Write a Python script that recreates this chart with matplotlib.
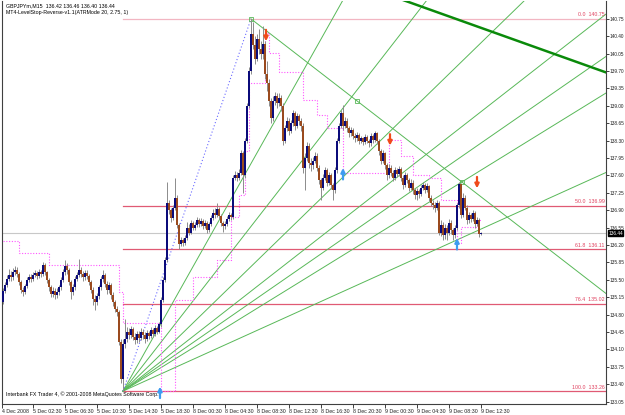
import matplotlib
matplotlib.use('Agg')
import matplotlib.pyplot as plt
import numpy as np

plt.rcParams['font.family'] = ['Liberation Sans', 'DejaVu Sans']

# ---------------- data (GBPJPYm M15 bars) ----------------
closes = [135.28,135.40,135.52,135.60,135.55,135.66,135.70,135.62,135.45,135.30,
          135.25,135.38,135.50,135.56,135.52,135.60,135.64,135.58,135.66,135.62,
          135.80,135.65,135.50,135.35,135.22,135.28,135.20,135.26,135.35,135.50,
          135.65,135.78,135.70,135.45,135.25,135.35,135.52,135.60,135.70,135.62,
          135.55,135.64,135.58,135.45,135.30,135.12,135.05,135.18,135.35,135.52,
          135.60,135.42,135.30,135.40,135.20,135.05,134.92,134.85,134.25,133.50,
          134.20,134.30,134.45,134.38,134.50,134.35,134.28,134.40,134.32,134.45,
          134.38,134.30,134.42,134.36,134.48,134.40,134.52,134.45,134.60,135.10,
          135.50,135.90,137.05,136.90,136.75,136.95,137.15,136.60,136.22,136.30,
          136.25,136.35,136.55,136.45,136.65,136.55,136.60,136.70,136.62,136.68,
          136.58,136.65,136.50,136.62,136.75,136.85,136.80,136.92,136.78,136.65,
          136.58,136.62,136.72,136.80,136.76,137.55,137.60,137.55,137.65,138.05,
          137.60,138.30,139.00,139.70,140.45,140.22,139.95,140.35,140.15,140.05,
          140.25,139.65,139.45,139.10,138.75,139.10,139.20,139.05,139.15,139.00,
          138.30,138.55,138.70,138.50,138.65,138.85,138.60,138.80,138.70,138.60,
          137.75,137.95,138.20,137.85,137.80,137.90,138.00,137.75,137.50,137.35,
          137.55,137.70,137.45,137.60,137.40,137.30,137.70,138.30,138.60,138.85,
          138.60,138.70,138.55,138.45,138.52,138.40,138.35,138.42,138.30,138.35,
          138.28,138.38,138.30,138.25,138.40,138.32,138.45,138.30,138.10,137.90,
          138.05,137.80,137.60,137.75,137.65,137.55,137.70,137.62,137.72,137.55,
          137.40,137.60,137.50,137.35,137.45,137.30,137.20,137.28,137.22,137.35,
          137.40,137.30,137.38,137.15,137.05,137.00,136.95,137.05,136.45,136.60,
          136.40,136.55,136.45,136.65,136.50,136.40,136.55,137.00,137.42,136.80,
          137.15,136.95,136.70,136.80,136.72,136.85,136.62,136.70,136.42,136.44]

opens = [135.05,135.28,135.40,135.52,135.60,135.55,135.66,135.70,135.62,135.45,
         135.30,135.25,135.38,135.50,135.56,135.52,135.60,135.64,135.58,135.66,
         135.62,135.80,135.65,135.50,135.35,135.22,135.28,135.20,135.26,135.35,
         135.50,135.65,135.78,135.70,135.45,135.25,135.35,135.52,135.60,135.70,
         135.62,135.55,135.64,135.58,135.45,135.30,135.12,135.05,135.18,135.35,
         135.52,135.60,135.42,135.30,135.40,135.20,135.05,134.92,134.85,134.25,
         133.50,134.20,134.30,134.45,134.38,134.50,134.35,134.28,134.40,134.32,
         134.45,134.38,134.30,134.42,134.36,134.48,134.40,134.52,134.45,134.60,
         135.10,135.50,135.90,137.05,136.90,136.75,136.95,137.15,136.60,136.22,
         136.30,136.25,136.35,136.55,136.45,136.65,136.55,136.60,136.70,136.62,
         136.68,136.58,136.65,136.50,136.62,136.75,136.85,136.80,136.92,136.78,
         136.65,136.58,136.62,136.72,136.80,136.76,137.55,137.60,137.55,137.65,
         138.05,137.60,138.30,139.00,139.70,140.45,140.22,139.95,140.35,140.15,
         140.05,140.25,139.65,139.45,139.10,138.75,139.10,139.20,139.05,139.15,
         139.00,138.30,138.55,138.70,138.50,138.65,138.85,138.60,138.80,138.70,
         138.60,137.75,137.95,138.20,137.85,137.80,137.90,138.00,137.75,137.50,
         137.35,137.55,137.70,137.45,137.60,137.40,137.30,137.70,138.30,138.60,
         138.85,138.60,138.70,138.55,138.45,138.52,138.40,138.35,138.42,138.30,
         138.35,138.28,138.38,138.30,138.25,138.40,138.32,138.45,138.30,138.10,
         137.90,138.05,137.80,137.60,137.75,137.65,137.55,137.70,137.62,137.72,
         137.55,137.40,137.60,137.50,137.35,137.45,137.30,137.20,137.28,137.22,
         137.35,137.40,137.30,137.38,137.15,137.05,137.00,136.95,137.05,136.45,
         136.60,136.40,136.55,136.45,136.65,136.50,136.40,136.55,137.00,137.42,
         136.80,137.15,136.95,136.70,136.80,136.72,136.85,136.62,136.70,136.42]

highs = [135.33,135.45,135.60,135.72,135.68,135.74,135.78,135.76,135.66,135.50,
         135.36,135.42,135.55,135.62,135.62,135.66,135.70,135.68,135.72,135.70,
         135.86,135.84,135.68,135.54,135.40,135.36,135.34,135.33,135.40,135.56,
         135.72,135.90,135.84,135.74,135.50,135.42,135.58,135.66,135.92,135.76,
         135.68,135.70,135.70,135.62,135.50,135.36,135.20,135.24,135.40,135.58,
         135.70,135.64,135.48,135.46,135.44,135.25,135.10,134.98,134.90,134.30,
         134.30,134.72,134.55,134.52,134.56,134.55,134.42,134.46,134.46,134.52,
         134.50,134.44,134.48,134.47,134.54,134.52,134.58,134.56,134.66,135.15,
         135.56,135.95,137.47,137.10,136.95,137.00,137.55,137.20,136.65,136.36,
         136.34,136.40,136.66,136.62,136.70,136.68,136.66,136.76,136.74,136.74,
         136.72,136.70,136.68,136.66,136.80,136.92,136.94,137.04,136.96,136.82,
         136.68,136.68,136.78,136.86,136.84,137.60,137.68,137.66,137.72,138.12,
         138.10,138.36,139.06,139.78,140.75,140.68,140.40,140.45,140.55,140.30,
         140.60,140.30,139.90,139.55,139.15,139.20,139.28,139.26,139.25,139.22,
         139.05,138.62,138.78,138.75,138.72,138.92,138.90,138.86,138.84,138.76,
         138.65,138.05,138.28,138.25,137.95,137.98,138.08,138.05,137.80,137.55,
         137.62,137.76,137.74,137.66,137.64,137.45,137.76,138.36,138.66,138.92,
         139.02,138.78,138.75,138.60,138.58,138.56,138.46,138.48,138.46,138.40,
         138.38,138.44,138.42,138.34,138.46,138.44,138.50,138.48,138.34,138.14,
         138.12,138.08,137.84,137.82,137.80,137.70,137.76,137.75,137.78,137.76,
         137.60,137.66,137.64,137.55,137.52,137.50,137.34,137.34,137.32,137.40,
         137.46,137.44,137.44,137.40,137.20,137.10,137.06,137.10,137.08,136.70,
         136.66,136.62,136.60,136.72,136.70,136.55,136.60,137.05,137.47,137.45,
         137.25,137.20,137.00,136.86,136.84,136.90,136.88,136.76,136.74,136.46]

lows = [135.02,135.24,135.36,135.48,135.48,135.50,135.60,135.56,135.40,135.24,
        135.18,135.22,135.34,135.46,135.46,135.48,135.55,135.52,135.54,135.56,
        135.58,135.60,135.44,135.28,135.15,135.16,135.12,135.14,135.20,135.30,
        135.46,135.60,135.62,135.40,135.12,135.20,135.30,135.48,135.56,135.55,
        135.48,135.50,135.52,135.40,135.24,135.00,134.89,135.00,135.12,135.30,
        135.46,135.36,135.22,135.24,135.12,134.98,134.85,134.78,134.18,133.42,
        133.26,134.12,134.25,134.30,134.32,134.28,134.20,134.22,134.25,134.28,
        134.30,134.22,134.26,134.30,134.32,134.34,134.36,134.40,134.42,134.55,
        135.05,135.45,135.85,136.82,136.66,136.70,136.90,136.55,136.12,136.18,
        136.18,136.20,136.30,136.40,136.42,136.50,136.50,136.56,136.56,136.58,
        136.52,136.54,136.44,136.46,136.58,136.70,136.74,136.76,136.72,136.58,
        136.46,136.52,136.58,136.68,136.70,136.72,137.50,137.48,137.50,137.60,
        137.25,137.55,138.25,138.95,139.65,140.15,139.85,139.90,140.05,139.95,
        139.95,139.55,139.30,139.00,138.65,138.70,139.02,138.95,139.00,138.90,
        138.22,138.25,138.50,138.42,138.45,138.60,138.52,138.55,138.62,138.50,
        137.65,137.30,137.90,137.75,137.68,137.72,137.84,137.68,137.42,137.10,
        137.30,137.50,137.38,137.40,137.32,137.10,137.25,137.65,138.25,138.55,
        138.52,138.55,138.48,138.38,138.40,138.34,138.28,138.30,138.24,138.25,
        138.22,138.24,138.25,138.18,138.20,138.26,138.28,138.24,138.02,137.82,
        137.85,137.72,137.50,137.55,137.58,137.48,137.50,137.56,137.58,137.48,
        137.32,137.36,137.44,137.28,137.30,137.22,137.12,137.10,137.15,137.18,
        137.30,137.24,137.26,137.08,136.98,136.92,136.86,136.90,136.40,136.38,
        136.30,136.32,136.30,136.40,136.42,136.30,136.34,136.50,136.95,136.74,
        136.76,136.90,136.62,136.64,136.66,136.68,136.55,136.58,136.36,136.40]

# LevelStop-Reverse trailing stop (value changes at these bars)
stop_bars   = [0, 8, 23, 58, 60, 79, 86, 95, 107, 114, 118, 121, 123, 131, 133,
               138, 150, 157, 162, 170, 193, 199, 205, 213, 219, 227, 229, 237]
stop_levels = [136.28, 136.04, 135.80, 135.25, 134.63, 133.26, 135.10, 135.55,
               135.90, 136.76, 137.20, 138.10, 139.46, 140.47, 140.06, 139.68,
               139.12, 138.81, 138.55, 137.65, 138.31, 138.00, 137.60, 137.55,
               137.10, 136.24, 136.56, 136.70]

# signal arrows
arrow_bars   = [78.5, 131.5, 170, 193.5, 227, 237]
arrow_prices = [133.24, 140.41, 137.64, 138.31, 136.23, 137.45]
arrow_dirs   = ['up', 'down', 'up', 'down', 'up', 'down']

# Fibonacci retracement
fib_start_bar = 60
fib_levels = [140.75, 136.99, 136.11, 135.02, 133.26]
fib_names  = ['0.0', '50.0', '61.8', '76.4', '100.0']

# fan lines from the swing low
fan_origin = (60, 133.26)
fan_to_bars   = [170, 212, 261, 301, 301, 229.5, 301]
fan_to_prices = [141.13, 141.13, 141.13, 140.83, 139.98, 137.47, 137.65]

# trend lines
peak = (124, 140.75)
down_anchor = (177, 139.10)
thick_a = (200, 141.13)
thick_b = (301, 139.68)

current_price = 136.44

y_ticks = [133.05 + 0.35 * k for k in range(23)]
x_tick_bars = [15 + 16 * k for k in range(15)]
x_tick_labels = ['5 Dec 02:30', '5 Dec 06:30', '5 Dec 10:30', '5 Dec 14:30', '5 Dec 18:30',
                 '8 Dec 00:30', '8 Dec 04:30', '8 Dec 08:30', '8 Dec 12:30', '8 Dec 16:30',
                 '8 Dec 20:30', '9 Dec 00:30', '9 Dec 04:30', '9 Dec 08:30', '9 Dec 12:30']

# ---------------- drawing ----------------
FS = 3.8
FSY = 3.45
fig = plt.figure(figsize=(6.25, 4.15), dpi=100)
fig.patch.set_facecolor('white')
ax = fig.add_axes([2/625, 11/415, 604/625, 403/415])
ax.set_xlim(-0.5, 301.5)
ax.set_ylim(133.00, 141.11)

n = len(closes)
xs = np.arange(n)
o = np.array(opens); c = np.array(closes); h = np.array(highs); l = np.array(lows)

# current price line
ax.axhline(current_price, color='#c8c8c8', lw=0.8, zorder=1)

# fib levels
for lev, name in zip(fib_levels, fib_names):
    col = '#f2b6c2' if name == '0.0' else '#e05a74'
    ax.plot([fib_start_bar, 301.5], [lev, lev], color=col, lw=0.9, zorder=1)
    ax.text(300.8, lev + 0.03, f'{name}  {lev:.2f}', color='#e0405e', fontsize=FS,
            ha='right', va='bottom', zorder=5)

# fan lines
x0, p0 = fan_origin
for xb, pb in zip(fan_to_bars, fan_to_prices):
    slope = (pb - p0) / (xb - x0)
    ax.plot([x0, 330], [p0, p0 + slope * (330 - x0)], color='#58b858', lw=0.7, zorder=2)

# descending line from the peak
slope = (down_anchor[1] - peak[1]) / (down_anchor[0] - peak[0])
ax.plot([peak[0], 330], [peak[1], peak[1] + slope * (330 - peak[0])], color='#58b858', lw=0.7, zorder=2)
ax.plot([peak[0], down_anchor[0]], [peak[1], down_anchor[1]], ls='none', marker='s', ms=2.2,
        mfc='none', mec='#58b858', mew=0.6, zorder=3)
ax.plot([229.5], [137.47], ls='none', marker='s', ms=2.2, mfc='none', mec='#58b858', mew=0.6, zorder=3)

# thick line
s2 = (thick_b[1] - thick_a[1]) / (thick_b[0] - thick_a[0])
ax.plot([150, 330], [thick_a[1] + s2 * (150 - thick_a[0]), thick_a[1] + s2 * (330 - thick_a[0])],
        color='#0a8a0a', lw=1.8, zorder=2)

# blue dotted swing line
ax.plot([fan_origin[0], peak[0]], [fan_origin[1], peak[1]], color='#6a6aff', lw=0.8,
        ls=(0, (1, 2)), zorder=2)

# trailing stop (step line)
stop_vals = np.full(n, np.nan)
for i, (b, v) in enumerate(zip(stop_bars, stop_levels)):
    end = stop_bars[i + 1] if i + 1 < len(stop_bars) else n
    stop_vals[b:end] = v
ax.step(xs, stop_vals, where='post', color='#ff55ff', lw=0.8, ls=(0, (1, 1.5)), zorder=3)

# candles
up = c >= o
ax.vlines(xs, l, h, color='#8c8c8c', lw=0.7, zorder=4)
body_h = np.where(np.abs(c - o) < 0.01, 0.01, c - o)
ax.bar(xs[up], body_h[up], bottom=o[up], width=0.8, color='#0b0b7a', lw=0, zorder=5)
ax.bar(xs[~up], body_h[~up], bottom=o[~up], width=0.8, color='#9a4a1e', lw=0, zorder=5)

# arrows
for xb, pr, d in zip(arrow_bars, arrow_prices, arrow_dirs):
    if d == 'up':
        ax.annotate('', xy=(xb, pr + 0.11), xytext=(xb, pr - 0.12),
                    arrowprops=dict(arrowstyle='-|>', color='#3d9cf0', lw=1.6, mutation_scale=6,
                                    shrinkA=0, shrinkB=0), zorder=6)
    else:
        ax.annotate('', xy=(xb, pr - 0.11), xytext=(xb, pr + 0.12),
                    arrowprops=dict(arrowstyle='-|>', color='#f04a1a', lw=1.6, mutation_scale=6,
                                    shrinkA=0, shrinkB=0), zorder=6)

# axes styling
ax.spines['top'].set_visible(False)
for side in ['left', 'right', 'bottom']:
    ax.spines[side].set_color('#404040')
    ax.spines[side].set_linewidth(0.8)

ax.yaxis.tick_right()
ax.set_yticks(y_ticks)
ax.set_yticklabels([f'{t:.2f}' for t in y_ticks])
ax.tick_params(axis='y', direction='out', length=2.0, width=0.6, labelsize=FSY, pad=0.6, colors='#202020')

ax.set_xticks([-0.5] + x_tick_bars)
ax.set_xticklabels(['4 Dec 2008'] + x_tick_labels)
ax.tick_params(axis='x', direction='out', length=3, width=0.6, labelsize=FS, pad=0.8, colors='#202020')
for lab in ax.get_xticklabels():
    lab.set_ha('left')

# current price box on axis
ax.text(1.0035, current_price, f'{current_price:.2f}', transform=ax.get_yaxis_transform(),
        fontsize=FSY, color='white', ha='left', va='center',
        bbox=dict(boxstyle='square,pad=0.12', fc='black', ec='black'), zorder=10, clip_on=False)

# header / footer texts
ax.text(0.006, 0.995, 'GBPJPYm,M15  136.42 136.46 136.40 136.44', transform=ax.transAxes,
        fontsize=FS, ha='left', va='top')
ax.text(0.006, 0.977, 'MT4-LevelStop-Reverse-v1.1(ATRMode 20, 2.75, 1)', transform=ax.transAxes,
        fontsize=FS, ha='left', va='top')
ax.text(0.006, 0.018, 'Interbank FX Trader 4, \u00a9 2001-2008 MetaQuotes Software Corp.',
        transform=ax.transAxes, fontsize=FS, ha='left', va='bottom')

fig.savefig('out.png', dpi=100)
